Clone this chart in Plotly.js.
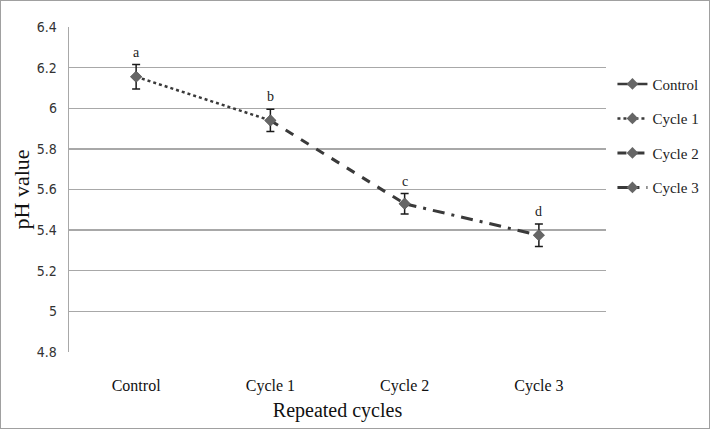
<!DOCTYPE html>
<html>
<head>
<meta charset="utf-8">
<script src="https://cdn.plot.ly/plotly-3.0.1.min.js"></script>
<style>
html,body{margin:0;padding:0;background:#fff;}
#chart{width:708px;height:427px;border:1px solid #a0a0a0;}
</style>
</head>
<body>
<div id="chart"></div>
<script>
// Data
const categories = ["Control", "Cycle 1", "Cycle 2", "Cycle 3"];
const phValues = [6.155, 5.94, 5.53, 5.375];
const errValues = [0.06, 0.055, 0.05, 0.055];
const letters = ["a", "b", "c", "d"];
const seriesNames = ["Control", "Cycle 1", "Cycle 2", "Cycle 3"];
const yTicks = [4.8, 5, 5.2, 5.4, 5.6, 5.8, 6, 6.2, 6.4];

const lineColor = "#3a3a3a";
const markerColor = "#666666";
const dashes = ["solid", "dot", "dash", "12px,7px,3px,7px"];
const widths = [2.5, 2.5, 3, 3];

const traces = [];
// Segment traces: series i joins point i-1 to point i (Control is just the first point)
for (let i = 0; i < seriesNames.length; i++) {
  const idx = i === 0 ? [0] : [i - 1, i];
  traces.push({
    type: "scatter",
    mode: "lines+markers",
    name: seriesNames[i],
    legendgroup: "g" + i,
    x: idx.map(k => categories[k]),
    y: idx.map(k => phValues[k]),
    line: {color: lineColor, width: widths[i], dash: dashes[i]},
    marker: {symbol: "diamond", size: 9, color: markerColor},
    hoverinfo: "skip"
  });
}
// Points with error bars
traces.push({
  type: "scatter",
  mode: "markers",
  showlegend: false,
  x: categories,
  y: phValues,
  marker: {symbol: "diamond", size: 9, color: markerColor},
  error_y: {type: "data", array: errValues, visible: true, color: "#1a1a1a", thickness: 1.5, width: 4}
});

const annotations = categories.map((c, i) => ({
  x: c, y: phValues[i] + errValues[i], xref: "x", yref: "y",
  text: letters[i], showarrow: false, yanchor: "bottom", yshift: 3,
  font: {family: "Liberation Serif, serif", size: 14, color: "#222"}
}));

const layout = {
  width: 708, height: 427,
  margin: {l: 68, r: 103, t: 26, b: 76, autoexpand: false},
  paper_bgcolor: "#fff", plot_bgcolor: "#fff",
  showlegend: true,
  legend: {
    x: 1.012, xanchor: "left", y: 0.875, yanchor: "top",
    font: {family: "Liberation Serif, serif", size: 15, color: "#222"},
    tracegroupgap: 12, itemwidth: 30, bgcolor: "rgba(0,0,0,0)"
  },
  xaxis: {
    type: "category", categoryorder: "array", categoryarray: categories,
    range: [-0.5, categories.length - 0.5],
    showgrid: false, zeroline: false, showline: false, ticks: "",
    ticklabelstandoff: 22,
    tickfont: {family: "Liberation Serif, serif", size: 16, color: "#111"},
    title: {text: "Repeated cycles", font: {family: "Liberation Serif, serif", size: 20, color: "#111"}, standoff: 8}
  },
  yaxis: {
    range: [4.8, 6.4], tickvals: yTicks, ticktext: yTicks.map(v => String(v)),
    showgrid: true, gridcolor: "#a8a8a8", gridwidth: 1.3,
    showline: true, linecolor: "#a8a8a8", linewidth: 1.3, zeroline: false, ticks: "",
    ticklabelstandoff: 8,
    tickfont: {family: "Liberation Sans Narrow, DejaVu Sans Condensed, sans-serif", size: 14, color: "#333"},
    title: {text: "pH value", font: {family: "Liberation Serif, serif", size: 22, color: "#111"}, standoff: 1}
  },
  annotations: annotations
};

Plotly.newPlot("chart", traces, layout, {displayModeBar: false, staticPlot: true});
</script>
</body>
</html>
